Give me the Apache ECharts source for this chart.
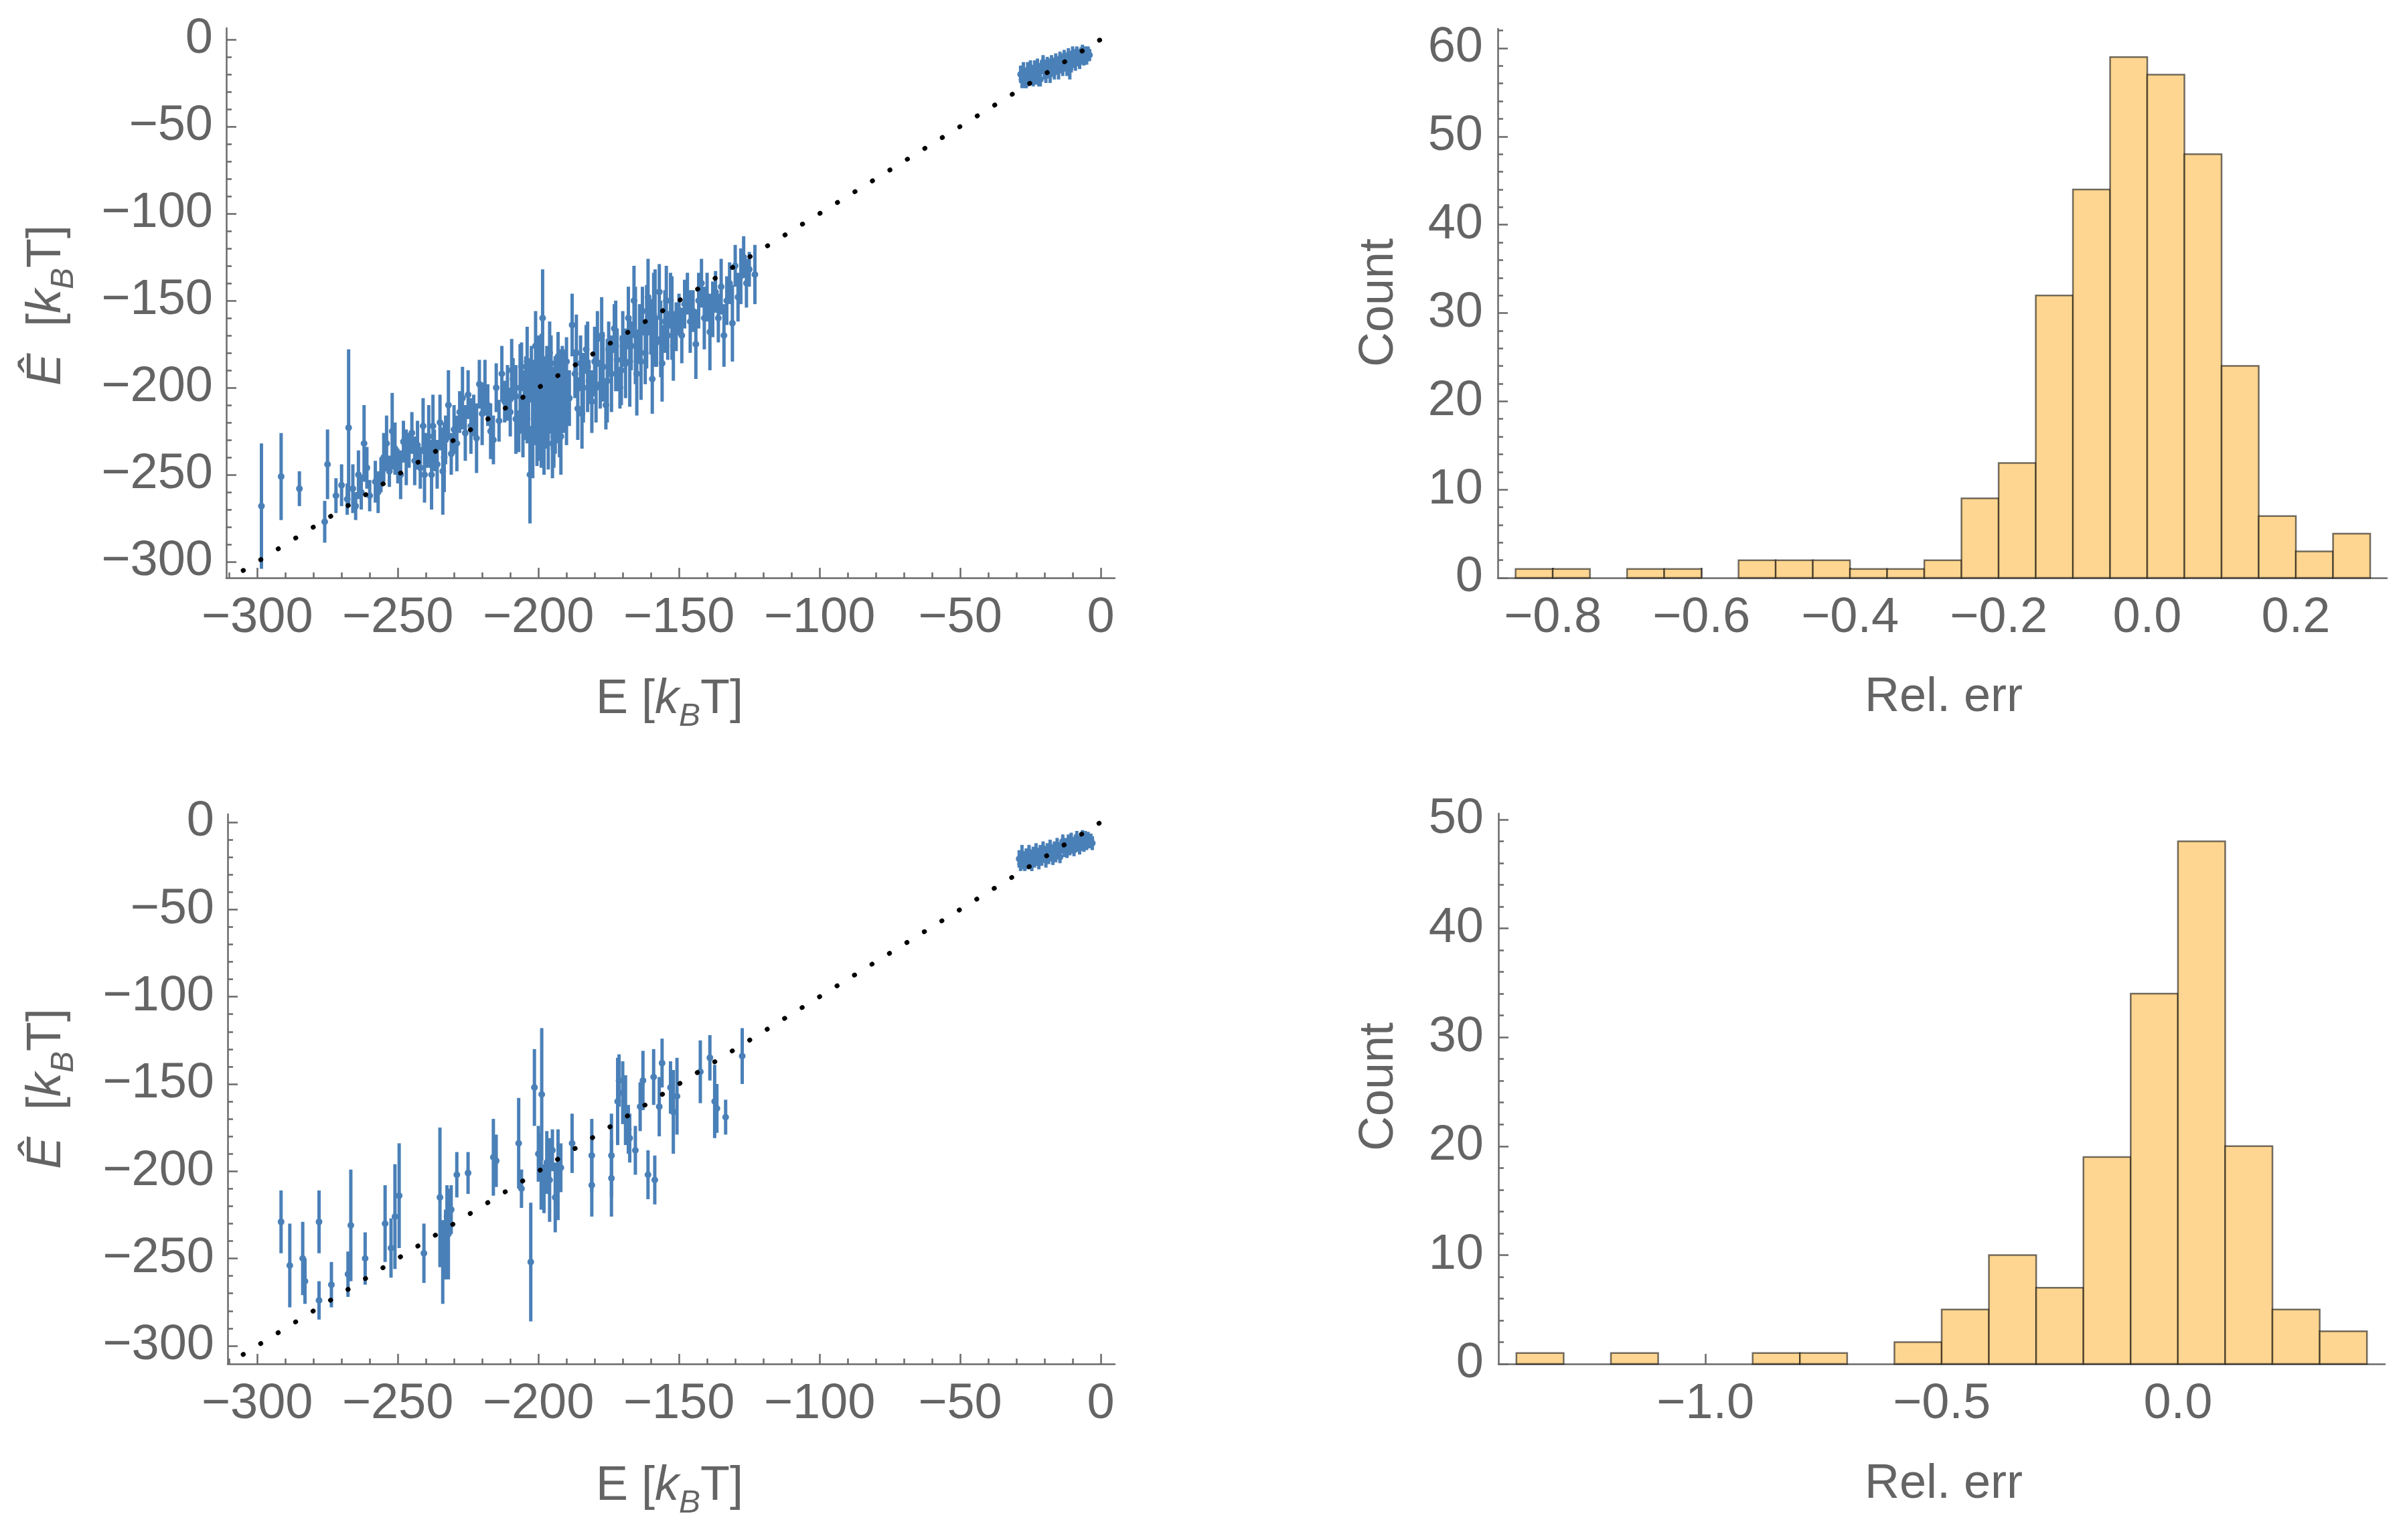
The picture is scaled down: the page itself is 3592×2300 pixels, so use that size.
<!DOCTYPE html>
<html><head><meta charset="utf-8">
<script src="https://cdn.jsdelivr.net/npm/echarts@6/dist/echarts.min.js"></script>
<style>html,body{margin:0;padding:0;background:#fff}#c{width:3592px;height:2300px}</style>
</head><body><div id="c"></div>
<script>
// ---------------- DATA ----------------
// [E, Ehat, err]
const topBlob = [
[-28.5,-20,5],[-28,-23,5],[-27.5,-18,5],[-27,-22,6],[-26.5,-24,4],[-26,-18,5],[-26,-22,5],[-25.5,-21,4],[-25,-16,4],[-24.5,-20,5],
[-24,-23,4],[-23.5,-17,5],[-23,-21,5],[-22.5,-15,4],[-22,-19,5],[-22,-22,5],[-21.5,-23,4],[-21,-16,4],[-20.5,-13,4],[-20,-18,5],
[-19.5,-21,4],[-19,-14,4],[-18.5,-17,5],[-18,-20,5],[-18,-15,4],[-17.5,-13,4],[-17,-16,4],[-16.5,-19,4],[-16,-12,4],[-15.5,-15,5],
[-15,-18,5],[-14.5,-11,4],[-14,-14,4],[-14,-12,4],[-13.5,-17,4],[-13,-10,4],[-12.5,-13,4],[-12,-16,5],[-11.5,-9,4],[-11,-17,6],
[-11,-12,4],[-10.5,-15,4],[-10,-8,4],[-10,-11,4],[-9.5,-12,4],[-9,-14,4],[-8.5,-7,3],[-8,-10,4],[-7.5,-13,4],[-7,-8,3.5],
[-6.5,-6,3],[-6,-11,4],[-6,-8,4],[-5.5,-7,3],[-5,-11,3.5],[-4.5,-7,3],[-4,-9,3.5]
];
const topCloud = [
[-298.5,-268,36],[-291.5,-251,25],[-285,-258,10],[-276,-277,12],[-275,-244,20],
[-272,-262,10],[-270,-256,12],[-268,-264,9],[-267.5,-223,45],[-266,-258,14],[-265,-268,8],[-264,-250,14],[-263,-260,10],[-262,-232,22],[-261,-246,12],[-260,-262,9],
[-258,-254,12],[-257,-260,12],[-256,-250,10],[-255,-240,14],[-254,-232,16],[-253,-248,9],[-252,-225,22],[-251,-235,15],[-250,-245,10],[-249,-250,14],[-248,-231,12],[-247,-240,16],[-246,-236,10],[-245,-226,12],
[-244,-242,14],[-243,-233,14],[-242,-246,12],[-241,-222,16],[-240.5,-250,16],[-240,-236,10],[-239,-228,18],[-238,-250,20],[-237.5,-222,18],[-237,-236,12],[-236,-244,14],[-235,-220,16],[-234,-248,25],[-233.5,-240,20],[-233,-230,14],[-232,-210,20],[-231,-238,12],[-230,-224,14],
[-229,-232,16],[-228,-214,12],[-227,-206,18],[-226,-226,16],[-225,-204,14],[-224,-222,16],[-223,-216,12],[-222,-229,20],[-221,-198,14],[-220,-215,18],[-219,-200,16],[-218,-210,12],[-217,-225,16],[-216,-230,14],[-215,-200,14],[-214,-219,12],[-213,-192,16],[-212,-208,12],
[-211,-203,16],[-210,-214,14],[-209.5,-190,18],[-209,-195,12],[-208,-218,20],[-208,-205,18],[-207,-225,12],[-206.5,-200,25],[-206,-188,14],[-205.5,-222,18],[-205,-210,20],[-204.5,-198,16],[-204,-185,20],[-204,-218,14],[-203.5,-207,24],[-203,-250,28],[-202.5,-192,16],[-202,-230,22],[-202,-206,22],[-201.5,-215,18],[-201,-176,20],[-201,-198,14],[-200.5,-225,20],[-200,-212,30],[-200,-188,18],[-199.5,-208,22],[-199,-195,26],[-199,-230,16],[-198.5,-160,28],[-198,-222,28],[-198,-200,18],[-197.5,-215,20],[-197,-205,24],[-197,-190,14],[-196.5,-225,22],[-196,-180,18],[-196,-205,20],[-195.5,-186,16],[-195,-232,20],[-195,-212,24],[-194.5,-228,18],[-194,-210,28],[-194,-198,16],[-193.5,-210,22],[-193,-195,24],[-193,-182,14],[-192.5,-220,20],[-192,-228,22],[-192,-204,26],[-191.5,-192,16],[-191,-200,20],[-191,-212,14],[-190.5,-198,20],[-190,-215,18],[-190,-185,14],
[-189,-206,16],[-188,-164,18],[-187,-192,14],[-186.5,-180,22],[-186,-212,18],[-185,-186,16],[-184.5,-215,20],[-184,-200,20],[-183,-178,14],[-182.5,-188,26],[-182,-196,12],[-181,-208,18],[-180,-185,20],[-179.5,-200,20],[-179,-172,16],[-178,-198,14],[-177.5,-170,22],[-177,-188,20],[-176,-210,14],[-175.5,-196,24],[-175,-178,16],[-174,-192,22],[-173,-166,14],[-172.5,-176,26],[-172,-184,18],[-171,-200,12],[-170.5,-190,20],[-170,-172,16],
[-169,-186,20],[-168,-160,18],[-167.5,-185,26],[-167,-176,14],[-166,-150,20],[-165.5,-170,28],[-165,-192,24],[-164,-168,16],[-163.5,-185,22],[-163,-156,14],[-162,-180,18],[-161.5,-165,24],[-161,-148,22],[-160,-165,16],[-159.5,-195,20],[-159,-158,24],[-158.5,-160,28],[-158,-174,14],[-157,-145,16],[-156.5,-172,22],[-156,-186,22],[-155,-162,18],[-154.5,-150,20],[-154,-170,14],[-153,-150,16],[-152.5,-160,24],[-152,-176,20],[-151,-165,14],[-150,-158,12],
[-149,-170,16],[-148,-152,14],[-147,-146,12],[-146,-162,18],[-145,-156,12],[-144,-175,20],[-143,-150,16],[-142,-140,14],[-141,-160,18],[-140,-148,14],[-139,-168,22],[-138,-155,16],[-137,-145,12],[-136,-160,14],[-135,-142,16],[-134,-170,18],[-133,-150,14],[-132,-140,12],[-131,-163,22],[-130,-130,12],[-129,-148,14],[-128,-136,16],[-127,-125,12],[-126,-140,14],[-125,-132,10],[-123,-135,17]
];
const bottomBlob = [
[-29,-21,5],[-28.5,-24,4],[-28,-18,5],[-27.5,-22,5],[-27,-25,3],[-26.5,-19,4],[-26,-23,4],[-25.5,-17,4],[-25,-21,4],[-24.5,-24,4],
[-24,-18,4],[-23.5,-22,4],[-23,-16,4],[-22.5,-20,5],[-22,-23,4],[-21.5,-17,4],[-21,-21,4],[-20.5,-15,4],[-20,-19,4],[-19.5,-22,4],
[-19,-16,4],[-18.5,-20,4],[-18,-14,4],[-17.5,-18,4],[-17,-21,3.5],[-16.5,-15,4],[-16,-19,4],[-15.5,-13,4],[-15,-17,4],[-14.5,-20,3.5],
[-14,-14,4],[-13.5,-11,4],[-13,-16,4],[-12.5,-13,4],[-12,-17,3.5],[-11.5,-11,4],[-11,-15,4],[-10.5,-10,4],[-10,-14,4],[-9.5,-16,3.5],
[-9,-11,4],[-8.5,-9,4],[-8,-13,4],[-7.5,-15,3.5],[-7,-10,4],[-6.5,-8,3.5],[-6,-13,4],[-5.5,-9,4],[-5,-12,4],[-4.5,-9,3.5],[-4,-11,4],[-3.5,-10,3.5],[-3,-12,4]
];
const bottomCloud = [
[-291.5,-229,18],[-288.4,-254,24],[-283.8,-250,21],[-283,-263,13],[-278,-229,18],[-278,-274,11],[-273.6,-265,13],[-267.7,-259,13],[-266.7,-231,32],[-261.6,-250,15],
[-254.5,-230,22],[-252.4,-244,17],[-251,-226,30],[-249.5,-214,30],[-240.7,-247,17],[-235,-215,40],[-234,-252,24],[-233,-242,20],[-232.5,-226,18],[-232,-236,26],
[-231,-222,14],[-229,-202,13],[-225,-201,12],[-216,-192,22],[-215,-194,15],[-207,-184,26],[-206,-210,11],[-202.7,-252,34],[-201.4,-152,22],[-200,-190,16],
[-199,-200,22],[-198.8,-156,38],[-198,-210,14],[-197,-195,18],[-196,-205,24],[-195,-188,12],[-194,-215,20],[-193,-202,26],[-192,-198,14],[-188,-184,17],
[-181,-191,21],[-181,-208,18],[-174,-191,24],[-174,-204,22],[-171.8,-160,25],[-171.3,-148,15],[-170,-155,18],[-169,-165,20],[-168,-176,14],[-167.5,-181,14],
[-165.5,-188,14],[-163.8,-163,14],[-162.8,-148,17],[-161,-202,14],[-159,-146,16],[-158.6,-205,14],[-157,-163,17],[-156,-138,14],[-153,-152,15],[-152,-166,24],
[-150.7,-157,22],[-142.4,-143,18],[-139,-135,13],[-137.3,-160,21],[-136.5,-164,14],[-133.4,-169,10],[-127.5,-134,16]
];
const diagonal = [[-305,-305],[0,0]];

const topHistStart = -0.85, topHistWidth = 0.05;
const topCounts = [1,1,0,1,1,0,2,2,2,1,1,2,9,13,32,44,59,57,48,24,7,3,5];
const bottomHistStart = -1.4, bottomHistWidth = 0.1;
const bottomCounts = [1,0,1,0,0,1,1,0,2,5,10,7,19,34,48,20,5,3];

const scatterMajor = [-300,-250,-200,-150,-100,-50,0];
const scatterXMinor = [-310,-290,-280,-270,-260,-240,-230,-220,-210,-190,-180,-170,-160,-140,-130,-120,-110,-90,-80,-70,-60,-40,-30,-20,-10];
const scatterYMinor = [-290,-280,-270,-260,-240,-230,-220,-210,-190,-180,-170,-160,-140,-130,-120,-110,-90,-80,-70,-60,-40,-30,-20,-10];
const topHistXTicks = [-0.8,-0.6,-0.4,-0.2,0.0,0.2];
const topHistYTicks = [0,10,20,30,40,50,60];
const topHistYMinor = [2,4,6,8,12,14,16,18,22,24,26,28,32,34,36,38,42,44,46,48,52,54,56,58,62];
const bottomHistXTicks = [-1.0,-0.5,0.0];
const bottomHistYTicks = [0,10,20,30,40,50];
const bottomHistYMinor = [2,4,6,8,12,14,16,18,22,24,26,28,32,34,36,38,42,44,46,48];

// ---------------- STYLE ----------------
const FONT = '"Liberation Sans", Arial, Helvetica, sans-serif';
const LAB = '#646464';
const AX = '#6a6a6a';
const BLUE = '#4a80b8';
const FILL = '#fed691';

const chart = echarts.init(document.getElementById('c'), null, {renderer:'canvas'});

const fmtInt = v => v < 0 ? '\u2212' + Math.abs(v) : String(v);
const fmtDec = v => (Math.abs(v) < 1e-9) ? '0.0' : (v < 0 ? '\u2212' + Math.abs(v).toFixed(1) : v.toFixed(1));

function mainAxis(gridIndex, pos, min, max, majors, fmt, margin) {
  return {type:'value', gridIndex, position:pos, min, max,
    axisLine:{show:true, onZero:false, lineStyle:{color:AX, width:2.5}},
    axisTick:{show:true, inside:true, length:15, customValues:majors, lineStyle:{color:AX, width:2.5}},
    axisLabel:{show:true, customValues:majors, formatter:fmt, color:LAB, fontSize:74, fontFamily:FONT, margin},
    splitLine:{show:false}, minorTick:{show:false}, minorSplitLine:{show:false}};
}
function minorAxis(gridIndex, pos, min, max, minors) {
  return {type:'value', gridIndex, position:pos, min, max,
    axisLine:{show:false, onZero:false},
    axisTick:{show:true, inside:true, length:8, customValues:minors, lineStyle:{color:AX, width:2.5}},
    axisLabel:{show:false}, splitLine:{show:false}};
}

const grids = [
  {left:338, top:42, width:1327, height:821},   // TL
  {left:2237, top:43, width:1328, height:820},  // TR
  {left:340, top:1216, width:1325, height:821}, // BL
  {left:2238, top:1215, width:1324, height:822} // BR
].map(g => Object.assign({outerBoundsMode:'none', containLabel:false}, g));

const X = [-311, 5], Y1 = [-309.2, 6.5], X3 = [-310.5, 5], Y3 = [-310.4, 4.6];
const XH1 = [-0.874, 0.3225], YH1 = [0, 62.2], XH2 = [-1.438, 0.438], YH2 = [0, 50.55];

const xAxis = [
  mainAxis(0,'bottom',X[0],X[1],scatterMajor,fmtInt,24),
  mainAxis(1,'bottom',XH1[0],XH1[1],topHistXTicks,fmtDec,24),
  mainAxis(2,'bottom',X3[0],X3[1],scatterMajor,fmtInt,24),
  mainAxis(3,'bottom',XH2[0],XH2[1],bottomHistXTicks,fmtDec,24),
  minorAxis(0,'bottom',X[0],X[1],scatterXMinor),
  minorAxis(2,'bottom',X3[0],X3[1],scatterXMinor)
];
const yAxis = [
  mainAxis(0,'left',Y1[0],Y1[1],scatterMajor,fmtInt,20),
  mainAxis(1,'left',YH1[0],YH1[1],topHistYTicks,fmtInt,22),
  mainAxis(2,'left',Y3[0],Y3[1],scatterMajor,fmtInt,20),
  mainAxis(3,'left',YH2[0],YH2[1],bottomHistYTicks,fmtInt,22),
  minorAxis(0,'left',Y1[0],Y1[1],scatterYMinor),
  minorAxis(1,'left',YH1[0],YH1[1],topHistYMinor),
  minorAxis(2,'left',Y3[0],Y3[1],scatterYMinor),
  minorAxis(3,'left',YH2[0],YH2[1],bottomHistYMinor)
];

function errData(list) { return list.map(d => [d[0], d[1], d[1]-d[2], d[1]+d[2]]); }
function errSeries(idx, data) {
  return {type:'custom', xAxisIndex:idx, yAxisIndex:idx, z:2, silent:true, clip:false,
    data: errData(data), encode:{x:0, y:[1,2,3]},
    renderItem:(params, api) => {
      const x = api.value(0);
      const p = api.coord([x, api.value(1)]);
      const lo = api.coord([x, api.value(2)]);
      const hi = api.coord([x, api.value(3)]);
      return {type:'group', children:[
        {type:'line', shape:{x1:lo[0], y1:lo[1], x2:hi[0], y2:hi[1]}, style:{stroke:BLUE, lineWidth:5}},
        {type:'circle', shape:{cx:p[0], cy:p[1], r:5}, style:{fill:BLUE}}
      ]};
    }};
}
function diagSeries(idx) {
  return {type:'line', xAxisIndex:idx, yAxisIndex:idx, z:5, silent:true, symbol:'none', showSymbol:false,
    data: diagonal, lineStyle:{color:'#000', width:7, type:[0.5, 30.2], cap:'round'}};
}
function histData(start, width, counts) {
  const out = [];
  counts.forEach((c, i) => { if (c > 0) out.push([start + i*width, start + (i+1)*width, c]); });
  return out;
}
function histSeries(idx, data) {
  return {type:'custom', xAxisIndex:idx, yAxisIndex:idx, z:2, silent:true,
    data, encode:{x:[0,1], y:2},
    renderItem:(params, api) => {
      const a = api.coord([api.value(0), api.value(2)]);
      const b = api.coord([api.value(1), 0]);
      return {type:'rect', shape:{x:a[0], y:a[1], width:b[0]-a[0], height:b[1]-a[1]},
        style:{fill:FILL, stroke:'rgba(0,0,0,0.55)', lineWidth:2.5}};
    }};
}

const RICH = {
  n:{fontSize:72, fontFamily:FONT, fill:LAB, lineHeight:100, verticalAlign:'middle'},
  i:{fontSize:72, fontFamily:FONT, fontStyle:'italic', fill:LAB, lineHeight:100, verticalAlign:'middle'},
  s:{fontSize:48, fontFamily:FONT, fontStyle:'italic', fill:LAB, lineHeight:48, verticalAlign:'bottom'}
};
function title(x, y, text, rot) {
  return {type:'text', x, y, rotation: rot || 0, silent:true,
    style:{text, align:'center', verticalAlign:'middle', fill:LAB, fontSize:72, fontFamily:FONT, rich:RICH}};
}

chart.setOption({
  animation:false,
  backgroundColor:'#ffffff',
  grid: grids,
  xAxis, yAxis,
  series: [
    errSeries(0, topCloud.concat(topBlob)),
    diagSeries(0),
    histSeries(1, histData(topHistStart, topHistWidth, topCounts)),
    errSeries(2, bottomCloud.concat(bottomBlob)),
    diagSeries(2),
    histSeries(3, histData(bottomHistStart, bottomHistWidth, bottomCounts))
  ],
  graphic: [
    title(1000, 1045, '{n|E [}{i|k}{s|B}{n|T]}'),
    title(70, 456, '{i|Ê}{n|  [}{i|k}{s|B}{n|T]}', Math.PI/2),
    title(2903, 1042, 'Rel. err'),
    title(2060, 452, 'Count', Math.PI/2),
    title(1000, 2220, '{n|E [}{i|k}{s|B}{n|T]}'),
    title(70, 1626, '{i|Ê}{n|  [}{i|k}{s|B}{n|T]}', Math.PI/2),
    title(2903, 2217, 'Rel. err'),
    title(2060, 1623, 'Count', Math.PI/2)
  ]
});
</script>
</body></html>
